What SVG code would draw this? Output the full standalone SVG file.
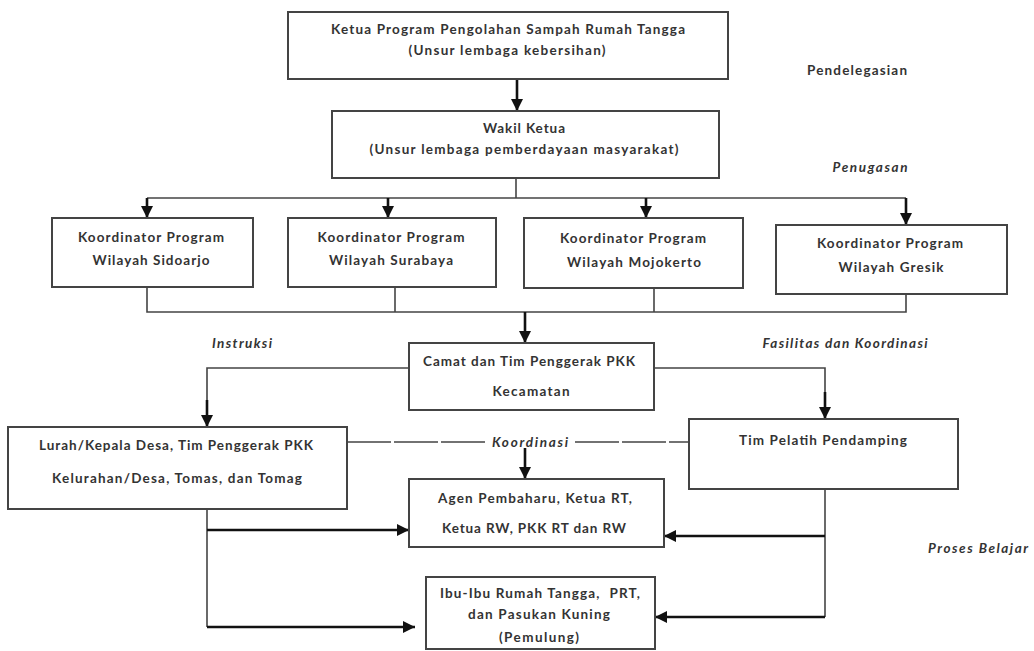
<svg xmlns="http://www.w3.org/2000/svg" width="1034" height="651" viewBox="0 0 1034 651">
  <defs>
    <marker id="arrow" markerUnits="userSpaceOnUse" markerWidth="12" markerHeight="12" refX="12" refY="6" orient="auto">
      <path d="M0,0 L12,6 L0,12 z" fill="#111"/>
    </marker>
    <style>
      .box { fill: #fff; stroke: #444; stroke-width: 2; }
      .t { font-family: Lato, "Open Sans", "Liberation Sans", sans-serif; font-weight: bold; font-size: 13.5px; fill: #333; text-anchor: middle; }
      .it { font-style: italic; }
      .ln { fill: none; stroke: #444; stroke-width: 1.6; }
      .ar { fill: none; stroke: #111; stroke-width: 2.6; marker-end: url(#arrow); }
      .dash { fill: none; stroke: #444; stroke-width: 1.6; stroke-dasharray: 44 3; }
    </style>
  </defs>
  <rect width="1034" height="651" fill="#fff"/>

  <!-- connectors -->
  <g id="connectors">
    <line class="ar" x1="517" y1="79" x2="517" y2="111"/>
    <line class="ln" x1="516" y1="178" x2="516" y2="198"/>
    <line class="ln" x1="147" y1="198" x2="906" y2="198"/>
    <line class="ar" x1="147" y1="198" x2="147" y2="218"/>
    <line class="ar" x1="388" y1="198" x2="388" y2="218"/>
    <line class="ar" x1="646" y1="198" x2="646" y2="218"/>
    <line class="ar" x1="906" y1="198" x2="906" y2="225"/>

    <polyline class="ln" points="147,287 147,312 906,312 906,294"/>
    <line class="ln" x1="395" y1="287" x2="395" y2="312"/>
    <line class="ln" x1="654" y1="288" x2="654" y2="312"/>
    <line class="ar" x1="525" y1="312" x2="525" y2="343"/>

    <polyline class="ln" points="409,368 207,368 207,402"/>
    <line class="ar" x1="207" y1="400" x2="207" y2="427"/>
    <polyline class="ln" points="654,368 825,368 825,394"/>
    <line class="ar" x1="825" y1="392" x2="825" y2="419"/>

    <line class="dash" x1="347" y1="442" x2="487" y2="442"/>
    <line class="dash" x1="575" y1="442" x2="689" y2="442"/>
    <line class="ar" x1="525" y1="448" x2="525" y2="479"/>

    <line class="ln" x1="207" y1="509" x2="207" y2="627"/>
    <line class="ar" x1="207" y1="530" x2="409" y2="530"/>
    <line class="ar" x1="207" y1="627" x2="415" y2="627"/>

    <line class="ln" x1="825" y1="489" x2="825" y2="617"/>
    <line class="ar" x1="825" y1="536" x2="664" y2="536"/>
    <line class="ar" x1="825" y1="617" x2="655" y2="617"/>
  </g>

  <g id="ketua">
    <rect class="box" x="288" y="12" width="440" height="67"/>
    <text class="t" x="508" y="34" textLength="354" lengthAdjust="spacing">Ketua Program Pengolahan Sampah Rumah Tangga</text>
    <text class="t" x="507" y="55" textLength="197" lengthAdjust="spacing">(Unsur lembaga kebersihan)</text>
  </g>

  <g id="wakil">
    <rect class="box" x="332" y="111" width="387" height="67"/>
    <text class="t" x="524" y="133" textLength="82" lengthAdjust="spacing">Wakil Ketua</text>
    <text class="t" x="524" y="154" textLength="309" lengthAdjust="spacing">(Unsur lembaga pemberdayaan masyarakat)</text>
  </g>

  <g id="koord-sidoarjo">
    <rect class="box" x="52" y="218" width="201" height="69"/>
    <text class="t" x="151" y="242" textLength="146" lengthAdjust="spacing">Koordinator Program</text>
    <text class="t" x="151" y="265" textLength="117" lengthAdjust="spacing">Wilayah Sidoarjo</text>
  </g>

  <g id="koord-surabaya">
    <rect class="box" x="288" y="218" width="208" height="69"/>
    <text class="t" x="391" y="242" textLength="147" lengthAdjust="spacing">Koordinator Program</text>
    <text class="t" x="391" y="265" textLength="124" lengthAdjust="spacing">Wilayah Surabaya</text>
  </g>

  <g id="koord-mojokerto">
    <rect class="box" x="524" y="218" width="219" height="70"/>
    <text class="t" x="633" y="242.5" textLength="146" lengthAdjust="spacing">Koordinator Program</text>
    <text class="t" x="634" y="266.5" textLength="134" lengthAdjust="spacing">Wilayah Mojokerto</text>
  </g>

  <g id="koord-gresik">
    <rect class="box" x="776" y="225" width="231" height="69"/>
    <text class="t" x="890" y="247.5" textLength="146" lengthAdjust="spacing">Koordinator Program</text>
    <text class="t" x="891" y="271.5" textLength="105" lengthAdjust="spacing">Wilayah Gresik</text>
  </g>

  <g id="camat">
    <rect class="box" x="409" y="343" width="245" height="67"/>
    <text class="t" x="529" y="366" textLength="212" lengthAdjust="spacing">Camat dan Tim Penggerak PKK</text>
    <text class="t" x="531" y="396" textLength="77" lengthAdjust="spacing">Kecamatan</text>
  </g>

  <g id="lurah">
    <rect class="box" x="8" y="427" width="339" height="82"/>
    <text class="t" x="176" y="450" textLength="274" lengthAdjust="spacing">Lurah/Kepala Desa, Tim Penggerak PKK</text>
    <text class="t" x="177" y="483" textLength="250" lengthAdjust="spacing">Kelurahan/Desa, Tomas, dan Tomag</text>
  </g>

  <g id="pelatih">
    <rect class="box" x="689" y="419" width="269" height="70"/>
    <text class="t" x="823" y="445" textLength="168" lengthAdjust="spacing">Tim Pelatih Pendamping</text>
  </g>

  <g id="agen">
    <rect class="box" x="409" y="479" width="255" height="68"/>
    <text class="t" x="535" y="503" textLength="194" lengthAdjust="spacing">Agen Pembaharu, Ketua RT,</text>
    <text class="t" x="534" y="533" textLength="184" lengthAdjust="spacing">Ketua RW, PKK RT dan RW</text>
  </g>

  <g id="ibu">
    <rect class="box" x="426" y="577" width="229" height="72"/>
    <text class="t" x="540" y="598" textLength="200" lengthAdjust="spacing" xml:space="preserve">Ibu-Ibu Rumah Tangga,  PRT,</text>
    <text class="t" x="539" y="619" textLength="142" lengthAdjust="spacing">dan Pasukan Kuning</text>
    <text class="t" x="539" y="642" textLength="80" lengthAdjust="spacing">(Pemulung)</text>
  </g>

  <!-- flow labels -->
  <g id="labels">
    <text class="t" x="857" y="75" textLength="100" lengthAdjust="spacing">Pendelegasian</text>
    <text class="t it" x="870" y="172" textLength="75" lengthAdjust="spacing">Penugasan</text>
    <text class="t it" x="242" y="348" textLength="60" lengthAdjust="spacing">Instruksi</text>
    <text class="t it" x="845" y="348" textLength="165" lengthAdjust="spacing">Fasilitas dan Koordinasi</text>
    <text class="t it" x="530" y="447" textLength="76" lengthAdjust="spacing">Koordinasi</text>
    <text class="t it" x="978" y="552.5" textLength="100" lengthAdjust="spacing">Proses Belajar</text>
  </g>
</svg>
